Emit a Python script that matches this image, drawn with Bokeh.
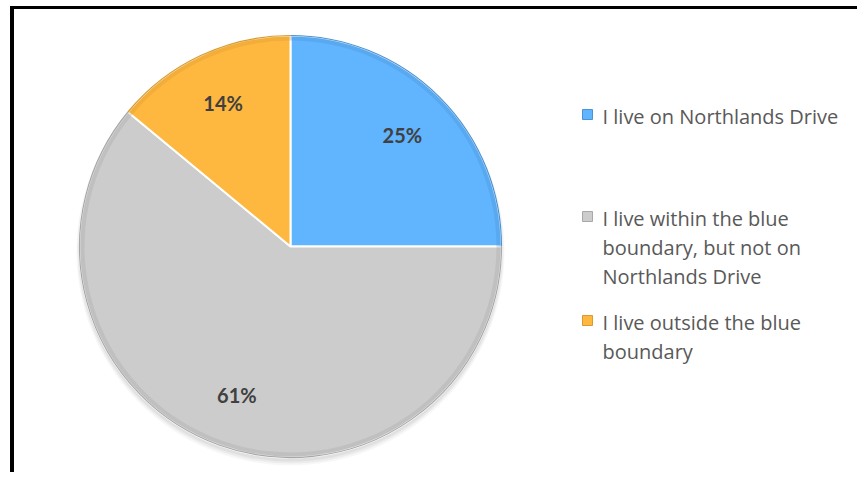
import math
import textwrap
from bokeh.plotting import figure
from bokeh.models import Range1d
from bokeh.core.properties import value
from bokeh.embed import file_html
from bokeh.resources import INLINE

# ---- data ----
categories = [
    "I live on Northlands Drive",
    "I live within the blue boundary, but not on Northlands Drive",
    "I live outside the blue boundary",
]
shares = [25, 61, 14]
colors = ["#61B4FE", "#CCCCCC", "#FFB83F"]
edge_colors = ["#4A94D6", "#A8A8A8", "#D99A2E"]

W, H = 857, 472
p = figure(width=W, height=H, output_backend="svg", toolbar_location=None,
           x_range=Range1d(0, W), y_range=Range1d(0, H), min_border=0)
p.axis.visible = False
p.grid.visible = False
p.outline_line_color = None
p.background_fill_color = "white"
p.border_fill_color = "white"

def Y(ypx):
    return H - ypx

# frame lines (top and left)
p.line([11.5, W], [Y(7), Y(7)], line_color="black", line_width=3)
p.line([11.5, 11.5], [Y(5.5), Y(H)], line_color="black", line_width=4)

cx, cy, R = 290, Y(246), 211

# soft shadow
for i, a in enumerate([0.10, 0.08, 0.06]):
    p.circle(x=[cx], y=[cy - 3 - i], radius=R + 1 + i, fill_color="#777777",
             fill_alpha=a, line_color=None)

total = float(sum(shares))
cum = math.pi / 2
starts, ends, mids = [], [], []
for s in shares:
    sweep = 2 * math.pi * s / total
    end = cum - sweep
    starts.append(end)
    ends.append(cum)
    mids.append((cum + end) / 2)
    cum = end

p.wedge(x=cx, y=cy, radius=R, start_angle=starts, end_angle=ends,
        fill_color=colors, line_color="white", line_width=2)
# bevel rim
p.annular_wedge(x=cx, y=cy, inner_radius=R - 5, outer_radius=R - 0.5,
                start_angle=starts, end_angle=ends, fill_color=edge_colors,
                fill_alpha=0.35, line_color=None)
p.arc(x=cx, y=cy, radius=R, start_angle=starts, end_angle=ends,
      line_color=edge_colors, line_width=1.2)

# data labels
lr = 0.75 * R
lx = [cx + lr * math.cos(m) for m in mids]
ly = [cy + lr * math.sin(m) for m in mids]
p.text(x=lx, y=ly, text=[f"{s}%" for s in shares], text_align="center",
       text_baseline="middle", text_font=value("Lato"), text_font_style="bold",
       text_font_size="20px", text_color="#404040")

# legend
entry_top = [116, 218, 322]   # baseline of first line of each entry (px)
line_h = 29
mx, my, tx, ty, tt = [], [], [], [], []
for cat, col, base in zip(categories, colors, entry_top):
    lines = textwrap.wrap(cat, 26)
    mx.append(587)
    my.append(Y(base - 2))
    for j, ln in enumerate(lines):
        tx.append(602)
        ty.append(Y(base + j * line_h))
        tt.append(ln)
p.rect(x=mx, y=my, width=10, height=10, fill_color=colors,
       line_color=edge_colors, line_width=1)
p.text(x=tx, y=ty, text=tt, text_align="left", text_baseline="alphabetic",
       text_font=value("Open Sans"), text_font_size="20px", text_color="#595959")

open("out.html", "w").write(file_html(p, INLINE))
